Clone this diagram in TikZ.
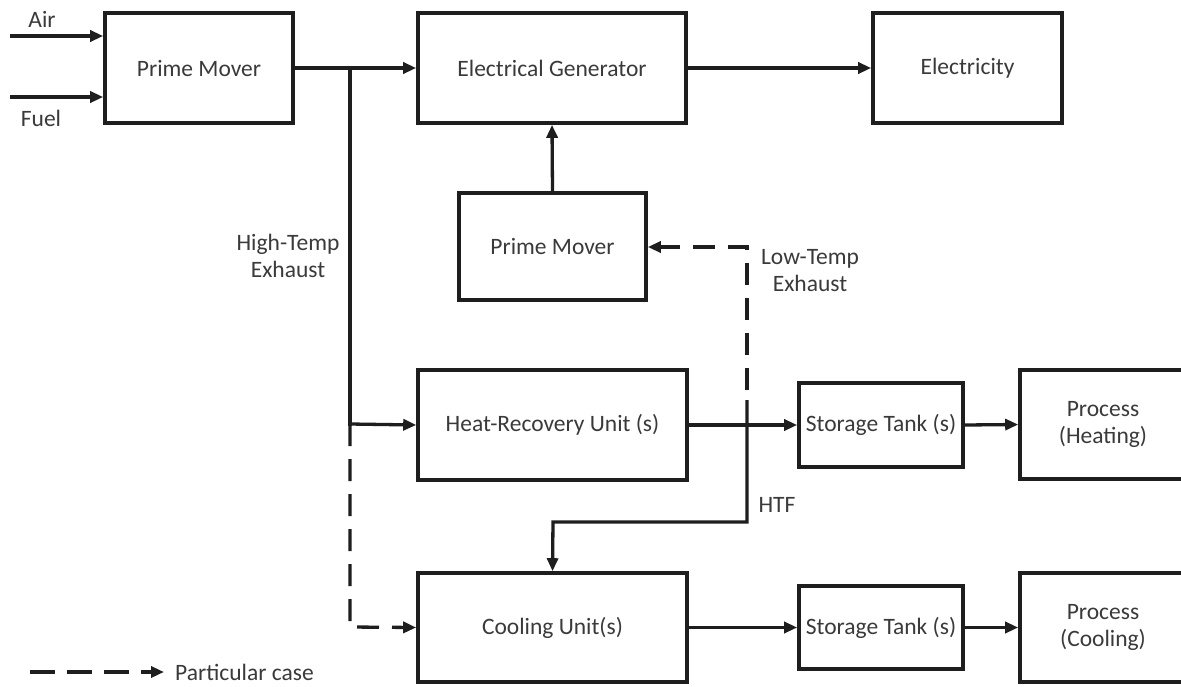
\documentclass[tikz,border=0pt]{standalone}
\usepackage{fontspec}
\setmainfont{Carlito}
\usetikzlibrary{arrows.meta}
\definecolor{ink}{HTML}{1E1E1E}
\definecolor{txt}{HTML}{3A3A3A}
\tikzset{
  blk/.style={draw=ink, line width=3.6pt, rectangle, inner sep=0pt, text=txt, align=center,
              font=\fontsize{23.5}{27}\selectfont},
  arr/.style={draw=ink, line width=3.3pt, -{Triangle[length=13pt,width=11pt]}},
  ln/.style={draw=ink, line width=3.3pt, line cap=rect},
  dsh/.style={draw=ink, line width=3.3pt, dash pattern=on 22pt off 13pt},
  lbl/.style={text=txt, align=center, inner sep=0pt, font=\fontsize{23.5}{27}\selectfont}
}
\begin{document}
\begin{tikzpicture}[x=1pt,y=-1pt]
\useasboundingbox[fill=white] (0,0) rectangle (1181,686);
\clip (0,0) rectangle (1181,686);
% boxes
\node[blk, minimum width=188pt, minimum height=110pt] (pm1) at (199,68) {Prime Mover};
\node[blk, minimum width=268pt, minimum height=110pt] (gen) at (552,68) {Electrical Generator};
\node[blk, minimum width=189pt, minimum height=110pt] (elec) at (967.5,68) {Electricity};
\node[blk, minimum width=187pt, minimum height=107pt] (pm2) at (552.5,246.5) {Prime Mover};
\node[blk, minimum width=269pt, minimum height=110pt] (hr) at (552.5,425) {Heat-Recovery Unit (s)};
\node[blk, minimum width=164pt, minimum height=84pt] (st1) at (881,425) {Storage Tank (s)};
\node[blk, minimum width=166pt, minimum height=109pt] (ph) at (1103,424.5) {Process\\(Heating)};
\node[blk, minimum width=269pt, minimum height=109pt] (cu) at (552.5,627.5) {Cooling Unit(s)};
\node[blk, minimum width=164pt, minimum height=83pt] (st2) at (881,627.5) {Storage Tank (s)};
\node[blk, minimum width=166pt, minimum height=109pt] (pc) at (1103,627.5) {Process\\(Cooling)};
% labels
\node[lbl] (lair) at (42,19) {Air};
\node[lbl] (lfuel) at (41,118) {Fuel};
\node[lbl] (lht) at (288,256) {High-Temp\\Exhaust};
\node[lbl] (llt) at (810,271) {Low-Temp\\Exhaust};
\node[lbl] (lhtf) at (777,505) {HTF};
\node[lbl, anchor=west] (lpc) at (175,672) {Particular case};
% coordinates
\coordinate (air0) at (10,36);
\coordinate (fuel0) at (10,97);
\coordinate (j1) at (350,68);
\coordinate (j2) at (350,424);
\coordinate (j3) at (350,627);
\coordinate (lt0) at (747,390);
\coordinate (lt1) at (747,247);
\coordinate (htf0) at (747,400);
\coordinate (htf1) at (747,522);
\coordinate (htf2) at (553,522);
\coordinate (lg0) at (30,672);
% connectors
\draw[arr] (air0) -- (air0 -| pm1.west);
\draw[arr] (fuel0) -- (fuel0 -| pm1.west);
\draw[arr] (pm1.east) -- (gen.west);
\draw[arr] (gen.east) -- (elec.west);
\draw[arr] (pm2.north) -- (gen.south);
\draw[ln] (j1) -- (j2);
\draw[arr] (j2) -- (hr.west);
\draw[dsh, -{Triangle[length=13pt,width=11pt]}] (j2) -- (j3) -- (cu.west);
\draw[arr] (hr.east) -- (st1.west);
\draw[arr] (st1.east) -- (ph.west);
\draw[arr] (cu.east) -- (st2.west);
\draw[arr] (st2.east) -- (pc.west);
\draw[dsh, -{Triangle[length=13pt,width=11pt]}] (lt0) -- (lt1) -- (lt1 -| pm2.east);
\draw[arr] (htf0) -- (htf1) -- (htf2) -- (cu.north);
\draw[dsh, dash pattern=on 25pt off 12pt, -{Triangle[length=13pt,width=11pt]}, shorten >=11pt] (lg0) -- (lpc.west);
\end{tikzpicture}
\end{document}
